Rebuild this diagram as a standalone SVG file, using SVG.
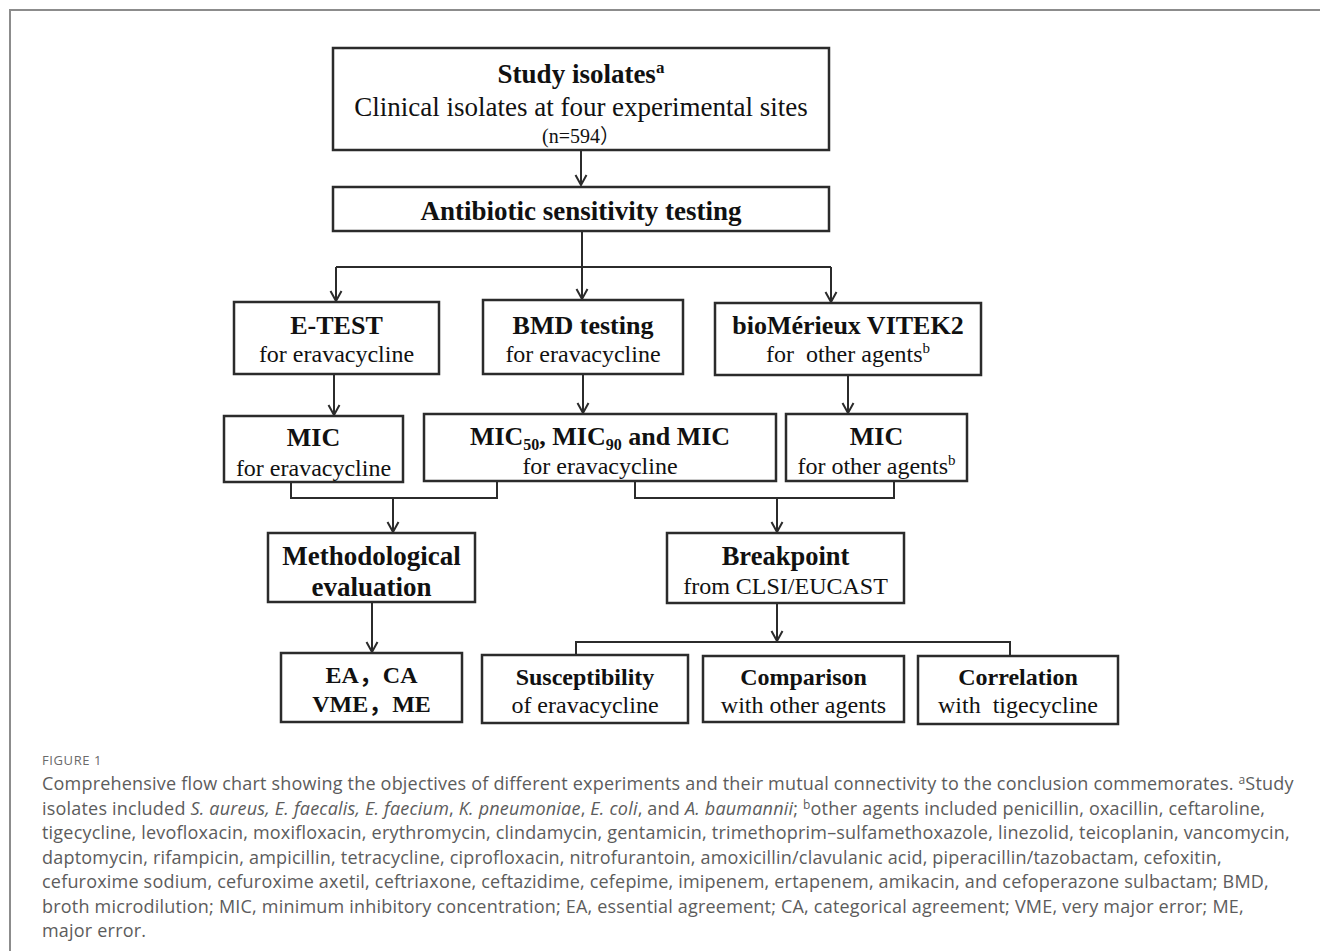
<svg xmlns="http://www.w3.org/2000/svg" width="1320" height="951" viewBox="0 0 1320 951">
<style>
.box{fill:#fff;stroke:#2b2b2b;stroke-width:2.5}
.t{font-family:"Liberation Serif","Times New Roman","Noto Sans CJK SC",serif;fill:#111;text-anchor:middle}
.b{font-weight:bold}
.ln{fill:none;stroke:#2b2b2b;stroke-width:2}
.cap{font-family:"Open Sans","Noto Sans",sans-serif;fill:#5c5c5c;letter-spacing:0.2px}
.pre{white-space:pre}
</style>
<defs>
<marker id="arr" viewBox="-1 -7 13 14" markerWidth="13" markerHeight="14" refX="10" refY="0" orient="auto" markerUnits="userSpaceOnUse">
<path d="M0,-5.5 L10,0 L0,5.5" fill="none" stroke="#2b2b2b" stroke-width="2"/>
</marker>
</defs>
<rect width="1320" height="951" fill="#fff"/>
<path d="M10,951 V10 H1320" fill="none" stroke="#8c8c8c" stroke-width="2"/>

<g id="connectors">
<path class="ln" d="M581,150 V185" marker-end="url(#arr)"/>
<path class="ln" d="M582,231 V267 M336,267 H831"/>
<path class="ln" d="M336,267 V301" marker-end="url(#arr)"/>
<path class="ln" d="M582,267 V299" marker-end="url(#arr)"/>
<path class="ln" d="M831,267 V302" marker-end="url(#arr)"/>
<path class="ln" d="M334,374 V415" marker-end="url(#arr)"/>
<path class="ln" d="M583,374 V413" marker-end="url(#arr)"/>
<path class="ln" d="M848,375 V413" marker-end="url(#arr)"/>
<path class="ln" d="M291,482 V498 H497 V481"/>
<path class="ln" d="M393,498 V532" marker-end="url(#arr)"/>
<path class="ln" d="M635,481 V498 H894 V481"/>
<path class="ln" d="M777,498 V532" marker-end="url(#arr)"/>
<path class="ln" d="M372,602 V652" marker-end="url(#arr)"/>
<path class="ln" d="M777,603 V641" marker-end="url(#arr)"/>
<path class="ln" d="M576,655 V642 H1010 V656"/>
</g>

<g id="study">
<rect class="box" x="333" y="48" width="496" height="102"/>
<text class="t b" x="581" y="83" font-size="27">Study isolates<tspan font-size="17" dy="-10">a</tspan></text>
<text class="t" x="581" y="116" font-size="27">Clinical isolates at four experimental sites</text>
<text class="t" x="581" y="143" font-size="20">(n=594）</text>
</g>
<g id="ast">
<rect class="box" x="333" y="187" width="496" height="44"/>
<text class="t b" x="581" y="220" font-size="27">Antibiotic sensitivity testing</text>
</g>
<g id="etest">
<rect class="box" x="234" y="302" width="205" height="72"/>
<text class="t b" x="336.5" y="334" font-size="26">E-TEST</text>
<text class="t" x="336.5" y="362" font-size="24">for eravacycline</text>
</g>
<g id="bmd">
<rect class="box" x="483" y="300" width="200" height="74"/>
<text class="t b" x="583" y="334" font-size="26">BMD testing</text>
<text class="t" x="583" y="362" font-size="24">for eravacycline</text>
</g>
<g id="vitek">
<rect class="box" x="715" y="303" width="266" height="72"/>
<text class="t b" x="848" y="334" font-size="26">bioMérieux VITEK2</text>
<text class="t pre" x="848" y="362" font-size="24">for  other agents<tspan font-size="15" dy="-9">b</tspan></text>
</g>
<g id="mic-etest">
<rect class="box" x="224" y="416" width="179" height="66"/>
<text class="t b" x="313.5" y="446" font-size="26">MIC</text>
<text class="t" x="313.5" y="476" font-size="24">for eravacycline</text>
</g>
<g id="mic-bmd">
<rect class="box" x="424" y="414" width="352" height="67"/>
<text class="t b" x="600" y="445" font-size="26">MIC<tspan font-size="16" dy="5">50</tspan><tspan dy="-5">, MIC</tspan><tspan font-size="16" dy="5">90</tspan><tspan dy="-5"> and MIC</tspan></text>
<text class="t" x="600" y="474" font-size="24">for eravacycline</text>
</g>
<g id="mic-vitek">
<rect class="box" x="786" y="414" width="181" height="67"/>
<text class="t b" x="876.5" y="445" font-size="26">MIC</text>
<text class="t" x="876.5" y="474" font-size="24">for other agents<tspan font-size="15" dy="-9">b</tspan></text>
</g>
<g id="method">
<rect class="box" x="268" y="533" width="207" height="69"/>
<text class="t b" x="371.5" y="565" font-size="27">Methodological</text>
<text class="t b" x="371.5" y="596" font-size="27">evaluation</text>
</g>
<g id="breakpoint">
<rect class="box" x="667" y="533" width="237" height="70"/>
<text class="t b" x="785.5" y="565" font-size="26.5">Breakpoint</text>
<text class="t" x="785.5" y="594" font-size="24">from CLSI/EUCAST</text>
</g>
<g id="errors">
<rect class="box" x="281" y="653" width="181" height="69"/>
<text class="t b" x="371.5" y="683" font-size="24">EA，CA</text>
<text class="t b" x="371.5" y="712" font-size="24">VME，ME</text>
</g>
<g id="susceptibility">
<rect class="box" x="482" y="655" width="206" height="68"/>
<text class="t b" x="585" y="685" font-size="24">Susceptibility</text>
<text class="t" x="585" y="713" font-size="24">of eravacycline</text>
</g>
<g id="comparison">
<rect class="box" x="703" y="656" width="201" height="66"/>
<text class="t b" x="803.5" y="685" font-size="24">Comparison</text>
<text class="t" x="803.5" y="713" font-size="24">with other agents</text>
</g>
<g id="correlation">
<rect class="box" x="918" y="656" width="200" height="68"/>
<text class="t b" x="1018" y="685" font-size="24">Correlation</text>
<text class="t pre" x="1018" y="713" font-size="24">with  tigecycline</text>
</g>

<g id="caption" class="cap" font-size="18">
<text x="42" y="765" font-size="13" letter-spacing="0.6" fill="#6a6a6a">FIGURE 1</text>
<text x="42" y="790">Comprehensive flow chart showing the objectives of different experiments and their mutual connectivity to the conclusion commemorates. <tspan font-size="12" dy="-6">a</tspan><tspan dy="6">Study</tspan></text>
<text x="42" y="814.5">isolates included <tspan font-style="italic">S. aureus, E. faecalis, E. faecium</tspan>, <tspan font-style="italic">K. pneumoniae</tspan>, <tspan font-style="italic">E. coli</tspan>, and <tspan font-style="italic">A. baumannii</tspan>; <tspan font-size="12" dy="-6">b</tspan><tspan dy="6">other agents included penicillin, oxacillin, ceftaroline,</tspan></text>
<text x="42" y="839">tigecycline, levofloxacin, moxifloxacin, erythromycin, clindamycin, gentamicin, trimethoprim–sulfamethoxazole, linezolid, teicoplanin, vancomycin,</text>
<text x="42" y="863.5">daptomycin, rifampicin, ampicillin, tetracycline, ciprofloxacin, nitrofurantoin, amoxicillin/clavulanic acid, piperacillin/tazobactam, cefoxitin,</text>
<text x="42" y="888">cefuroxime sodium, cefuroxime axetil, ceftriaxone, ceftazidime, cefepime, imipenem, ertapenem, amikacin, and cefoperazone sulbactam; BMD,</text>
<text x="42" y="912.5">broth microdilution; MIC, minimum inhibitory concentration; EA, essential agreement; CA, categorical agreement; VME, very major error; ME,</text>
<text x="42" y="937">major error.</text>
</g>
</svg>
